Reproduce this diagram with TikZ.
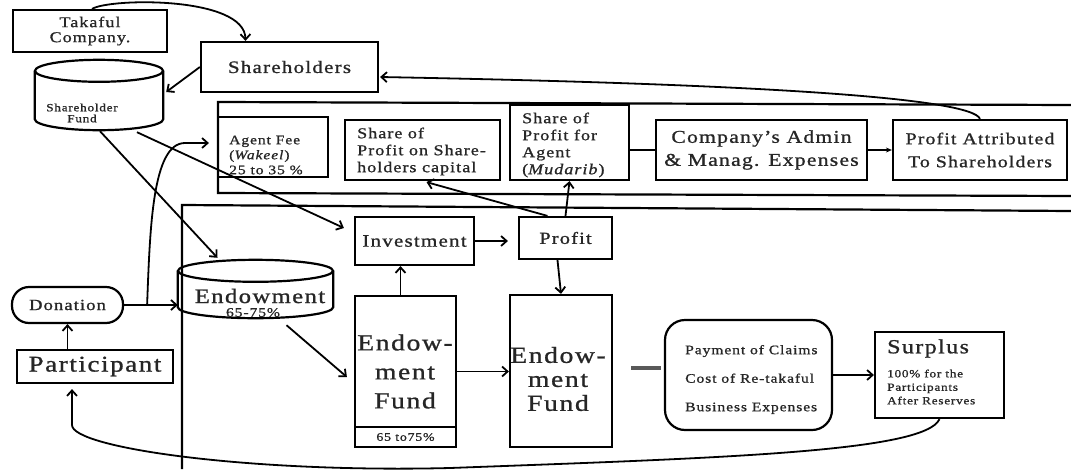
\documentclass[tikz,border=0pt]{standalone}
\usepackage{fontspec}
\setmainfont{Liberation Serif}[LetterSpace=7,FakeStretch=1.2,FakeBold=1]
\usetikzlibrary{arrows.meta,calc}
\newcommand\fsz[2]{\fontsize{#1}{#2}\selectfont}
\begin{document}
\begin{tikzpicture}[x=1pt,y=-1pt,
  box/.style={draw, line width=2.2pt, inner sep=0pt, text=black!85},
  txt/.style={inner sep=0pt, text=black!85},
  conn/.style={line width=1.8pt, -{Straight Barb[length=5.5pt,width=10pt]}},
  smallconn/.style={line width=1.4pt, -{Stealth[length=6pt,width=5pt]}},
  frame/.style={line width=2.2pt},
  cyl/.style={line width=2.2pt}]
\useasboundingbox (0,0) rectangle (1071,469);

% frames
\draw[frame] (1071,105) -- (218,102) -- (218,193) -- (1071,196);
\draw[frame] (182,469) -- (182,205) -- (1071,211);

% top-left
\node[box, minimum width=154, minimum height=42, align=center, font=\fsz{15}{15}] (tak) at (90,31) {Takaful\\Company.};
\node[box, minimum width=177, minimum height=50, font=\fsz{17.5}{20}] (sh) at (289.5,67) {Shareholders};

% shareholder fund cylinder
\node[minimum width=128, minimum height=70, inner sep=0pt] (shf) at (99,95) {};
\draw[cyl] ($(shf.north west)+(0,11)$) -- ($(shf.south west)+(0,-11)$)
  .. controls +(0,6.1) and +(-35.3,0) .. (shf.south)
  .. controls +(35.3,0) and +(0,6.1) .. ($(shf.south east)+(0,-11)$)
  -- ($(shf.north east)+(0,11)$);
\draw[cyl] ($(shf.north)+(0,11)$) ellipse [x radius=64, y radius=11];
\node[txt, align=center, font=\fsz{11}{11}] (shft) at (82,113) {Shareholder\\Fund};

% company boxes
\node[box, minimum width=110, minimum height=60] (af) at (273,147) {};
\node[txt, anchor=west, align=left, font=\fsz{13}{15}] (aft) at (229,155) {Agent Fee\\(\textit{Wakeel})\\25 to 35 \%};
\node[box, minimum width=155, minimum height=60] (shp) at (422.5,150) {};
\node[txt, anchor=west, align=left, font=\fsz{15}{17}] (shpt) at (357,151.5) {Share of\\Profit on Share-\\holders capital};
\node[box, minimum width=119, minimum height=75] (mud) at (569.5,142.5) {};
\node[txt, anchor=west, align=left, font=\fsz{15}{17}] (mudt) at (522,145) {Share of\\Profit for\\Agent\\(\textit{Mudarib})};
\node[box, minimum width=211, minimum height=60, align=center, font=\fsz{18}{23}] (adm) at (761.5,150) {Company's Admin\\\& Manag. Expenses};
\node[box, minimum width=174, minimum height=60, align=center, font=\fsz{16.5}{23}] (pa) at (980,150) {Profit Attributed\\To Shareholders};

% lower left
\node[box, rounded corners=17pt, minimum width=111, minimum height=36, font=\fsz{15.5}{16}] (don) at (67.5,305) {Donation};
\node[box, minimum width=156, minimum height=33, font=\fsz{22.5}{24}] (part) at (95,366.5) {Participant};

% endowment cylinder
\node[minimum width=155, minimum height=58, inner sep=0pt] (endw) at (255.5,289) {};
\draw[cyl] ($(endw.north west)+(0,11)$) -- ($(endw.south west)+(0,-11)$)
  .. controls +(0,6.1) and +(-42.8,0) .. (endw.south)
  .. controls +(42.8,0) and +(0,6.1) .. ($(endw.south east)+(0,-11)$)
  -- ($(endw.north east)+(0,11)$);
\draw[cyl] ($(endw.north)+(0,11)$) ellipse [x radius=77.5, y radius=11];
\node[txt, font=\fsz{20.5}{22}] (endwt) at (260,296) {Endowment};
\node[txt, font=\fsz{13}{14}] (endwp) at (253,312.5) {65-75\%};

% fund boxes
\node[box, minimum width=119, minimum height=48, font=\fsz{17.5}{20}] (inv) at (414.5,241) {Investment};
\node[box, minimum width=93, minimum height=42, font=\fsz{17}{20}] (prof) at (565.5,238) {Profit};
\node[box, minimum width=101, minimum height=151] (ef1) at (405.5,371.5) {};
\node[box, minimum width=101, minimum height=20, font=\fsz{11.5}{12}] (ef1p) at (405.5,437) {65 to75\%};
\node[txt, align=center, font=\fsz{23}{29}] (ef1t) at (405,371.5) {Endow-\\ment\\Fund};
\node[box, minimum width=102, minimum height=152] (ef2) at (561,371) {};
\node[txt, align=center, font=\fsz{23}{24}] (ef2t) at (558,379) {Endow-\\ment\\Fund};

% claims and surplus
\node[box, rounded corners=20pt, minimum width=167, minimum height=110] (pay) at (748.5,375) {};
\node[txt, anchor=west, align=left, font=\fsz{13}{28.5}] (payt) at (685,379.5) {Payment of Claims\\Cost of Re-takaful\\Business Expenses};
\node[box, minimum width=129, minimum height=86] (sur) at (939.5,375) {};
\node[txt, anchor=west, font=\fsz{20}{22}] (surt) at (887,348.5) {Surplus};
\node[txt, anchor=west, align=left, font=\fsz{11}{13.5}] (surs) at (887,387) {100\% for the\\Participants\\After Reserves};

% connectors
\draw[conn] ($(tak.north)+(2,0)$) .. controls (110,-2) and (245,-4) .. ($(sh.north)+(-44,0)$);
\draw[conn] (sh.west) -- ($(shf.east)+(3,-3)$);
\draw[conn] (pa.north) .. controls (972,98) and (760,84) .. ($(sh.east)+(1,10)$);
\draw[conn] (don.east) -- (don.east -| endw.west);
\coordinate (br) at ($(don.east)+(23,0)$);
\draw[conn] (br) .. controls (150,230) and (152,143) .. (185,143) -- ($(af.west)+(-8,-4)$);
\draw[conn] (don.south |- part.north) -- (don.south);
\draw[conn] ($(shf.south)+(1,1)$) -- ($(endw.north)+(-38,-2)$);
\draw[conn] ($(shf.south)+(38,2)$) -- ($(inv.west)+(-10,-13)$);
\draw[conn] (inv.east) -- ($(inv.east -| prof.west)+(-10,0)$);
\draw[conn] ($(prof.north)+(-18,0)$) -- ($(shp.south)+(4,1)$);
\draw[conn] (prof.north) -- (mud.south);
\draw[conn] ($(prof.south)+(-8,0)$) -- (ef2.north);
\coordinate (e1t) at ($(ef1.north)+(-5,0)$);
\draw[conn] (e1t) -- (e1t |- inv.south);
\draw[conn] ($(endw.south)+(31,7)$) -- ($(ef1.west)+(-7,5.5)$);
\draw[conn] (ef1.east) -- (ef1.east -| ef2.west);
\coordinate (d1) at ($(ef2.east)+(18,-3)$);
\coordinate (d2) at ($(ef2.east)+(48,-3)$);
\draw[line width=3.5pt, black!65] (d1) -- (d2);
\draw[conn] (pay.east) -- (sur.west);
\draw[smallconn] (adm.east) -- (pa.west);
\draw[line width=1.8pt] (adm.west -| mud.east) -- (adm.west);
\draw[conn] (sur.south) .. controls (925,452) and (720,458) .. (450,468)
  .. controls (250,473) and (72,448) .. (72,425) -- ($(part.south)+(-23,5)$);
\end{tikzpicture}
\end{document}
